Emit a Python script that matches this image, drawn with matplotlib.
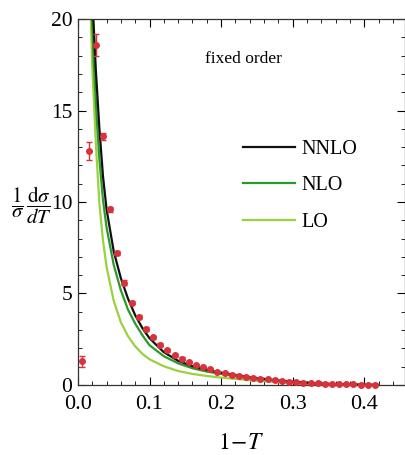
import numpy as np
import matplotlib
matplotlib.use('Agg')
import matplotlib.pyplot as plt
from matplotlib.ticker import MultipleLocator, FormatStrFormatter

plt.rcParams['font.family'] = ['Liberation Serif', 'DejaVu Serif']
plt.rcParams['mathtext.fontset'] = 'stix'

# Messpunkte (Bin-Mitten, Werte, Fehler)
data_x = [0.005, 0.015, 0.025, 0.035, 0.045, 0.055, 0.065, 0.075, 0.085, 0.095,
          0.105, 0.115, 0.125, 0.135, 0.145, 0.155, 0.165, 0.175, 0.185, 0.195,
          0.205, 0.215, 0.225, 0.235, 0.245, 0.255, 0.265, 0.275, 0.285, 0.295,
          0.305, 0.315, 0.325, 0.335, 0.345, 0.355, 0.365, 0.375, 0.385, 0.395,
          0.405, 0.415]
data_y = [1.3, 12.8, 18.6, 13.6, 9.6, 7.2, 5.6, 4.5, 3.7, 3.04,
          2.6, 2.2, 1.9, 1.62, 1.44, 1.26, 1.09, 0.97, 0.86, 0.73,
          0.64, 0.56, 0.49, 0.44, 0.38, 0.34, 0.31, 0.27, 0.23, 0.18,
          0.15, 0.12, 0.10, 0.08, 0.06, 0.05, 0.04, 0.03, 0.03, 0.02,
          0.02, 0.02]
data_err = [0.3, 0.5, 0.6, 0.2, 0.15, 0.12, 0.12, 0.1, 0.1, 0.1,
            0.08, 0.08, 0.08, 0.07, 0.07, 0.06, 0.06, 0.05, 0.05, 0.05,
            0.05, 0.05, 0.05, 0.04, 0.04, 0.04, 0.04, 0.04, 0.04, 0.04,
            0.03, 0.03, 0.03, 0.03, 0.03, 0.03, 0.03, 0.03, 0.03, 0.03,
            0.03, 0.03]

# Theoriekurven
lo_x = [0.017, 0.02, 0.025, 0.03, 0.035, 0.04, 0.05, 0.06, 0.07, 0.08, 0.09,
        0.10, 0.12, 0.14, 0.16, 0.18, 0.20, 0.24, 0.28, 0.31, 0.333, 0.36, 0.42]
lo_y = [21.5, 17.4, 13.2, 9.9, 7.9, 6.45, 4.6, 3.42, 2.66, 2.11, 1.70,
        1.40, 1.02, 0.76, 0.60, 0.49, 0.40, 0.26, 0.155, 0.09, 0.03, 0.01, 0.0]

nlo_x = [0.019, 0.022, 0.026, 0.03, 0.035, 0.04, 0.05, 0.06, 0.07, 0.08, 0.09,
         0.10, 0.12, 0.14, 0.16, 0.18, 0.20, 0.24, 0.28, 0.31, 0.34, 0.38, 0.42]
nlo_y = [20.8, 17.7, 14.7, 12.3, 10.1, 8.6, 6.56, 5.17, 4.11, 3.35, 2.72,
         2.17, 1.57, 1.18, 0.91, 0.73, 0.60, 0.375, 0.22, 0.135, 0.06, 0.02, 0.0]

nnlo_x = [0.021, 0.025, 0.03, 0.035, 0.04, 0.05, 0.06, 0.07, 0.08, 0.09,
          0.10, 0.12, 0.14, 0.16, 0.18, 0.20, 0.24, 0.28, 0.31, 0.34, 0.38, 0.42]
nnlo_y = [20.5, 17.2, 14.0, 11.4, 9.6, 7.3, 5.83, 4.71, 3.81, 3.11,
          2.55, 1.79, 1.32, 1.02, 0.82, 0.67, 0.42, 0.243, 0.15, 0.07, 0.02, 0.0]

fig = plt.figure(figsize=(4.06, 4.55), dpi=100)
ax = fig.add_axes([0.192, 0.154, 0.8055, 0.804])

ax.plot(lo_x, lo_y, color='#9ad13c', lw=1.6, label='LO')
ax.plot(nlo_x, nlo_y, color='#2a9a2a', lw=1.6, label='NLO')
ax.plot(nnlo_x, nnlo_y, color='#111111', lw=1.6, label='NNLO')

ax.errorbar(data_x, data_y, yerr=data_err, fmt='o', color='#d8323c', ms=4,
            capsize=2.5, elinewidth=1, capthick=1, zorder=5, clip_on=False)

ax.set_xlim(0, 0.457)
ax.set_ylim(0, 20)
ax.xaxis.set_major_locator(MultipleLocator(0.1))
ax.xaxis.set_minor_locator(MultipleLocator(0.02))
ax.yaxis.set_major_locator(MultipleLocator(5))
ax.yaxis.set_minor_locator(MultipleLocator(1))
ax.xaxis.set_major_formatter(FormatStrFormatter('%.1f'))
ax.tick_params(which='both', direction='in', top=True, right=True, labelsize=16, pad=4)
ax.tick_params(axis='y', which='major', labelsize=15.5, pad=4)
ax.tick_params(axis='x', which='major', pad=7)
ax.tick_params(which='major', length=6, width=0.8)
ax.tick_params(which='minor', length=3, width=0.6)
for s in ax.spines.values():
    s.set_linewidth(0.9)
    s.set_color('#333333')

ax.text(0.388, 0.88, 'fixed order', transform=ax.transAxes, fontsize=12.5, ha='left')

h, l = ax.get_legend_handles_labels()
ax.legend(h[::-1], l[::-1], loc='upper left', bbox_to_anchor=(0.448, 0.72), frameon=False,
          fontsize=14.5, handlelength=2.6, handletextpad=0.3, labelspacing=0.86)

ax.set_xlabel(r'$1\!-\!T$', fontsize=17, labelpad=14)
fig.text(0.078, 0.549, r'$\dfrac{1}{\sigma}\,\dfrac{\mathrm{d}\sigma}{dT}$', fontsize=15,
         ha='center', va='center')

fig.savefig('out.png', dpi=100)
